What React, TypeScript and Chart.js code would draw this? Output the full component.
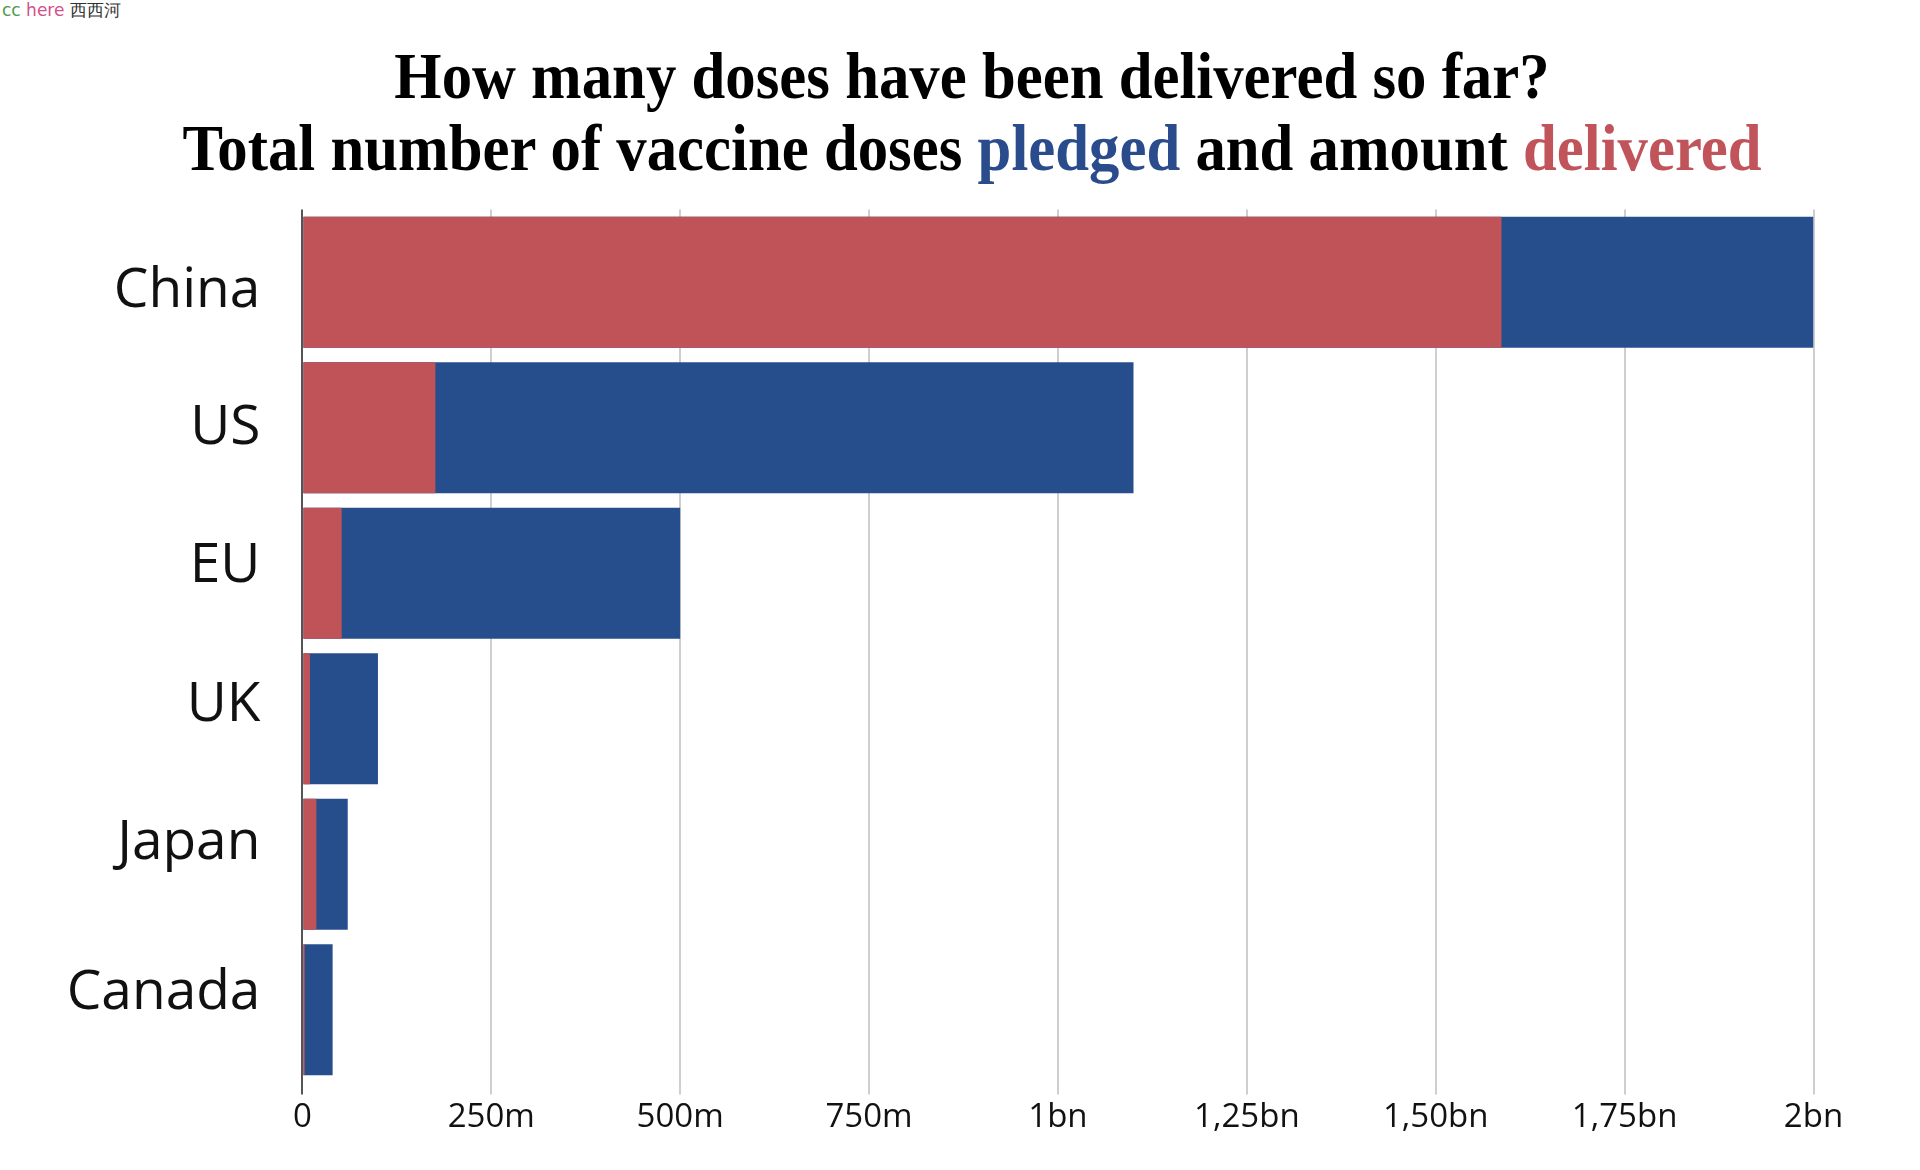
import React, { useEffect, useRef } from "react";
import { Chart, registerables } from "chart.js";

Chart.register(...registerables);

const countries = ["China", "US", "EU", "UK", "Japan", "Canada"];
// values in millions of doses
const pledged = [2000, 1100, 500, 100, 60, 40];
const delivered = [1587, 176, 52, 10, 18.5, 3];
const tickValues = [0, 250, 500, 750, 1000, 1250, 1500, 1750, 2000];
const tickLabels = ["0", "250m", "500m", "750m", "1bn", "1,25bn", "1,50bn", "1,75bn", "2bn"];

// vertical nudge (px) of each category label relative to its bar centre, as in the original artwork
const labelNudge = [9, 1, -7, -13, -21, -16];

const RED = "#BF5358";
const BLUE = "#274E8C";

const categoryLabelPlugin = {
  id: "categoryLabels",
  afterDraw(chart: any) {
    const y = chart.scales.y;
    const ctx = chart.ctx;
    ctx.save();
    ctx.font = "55px 'Open Sans'";
    ctx.fillStyle = "#111";
    ctx.textAlign = "right";
    ctx.textBaseline = "middle";
    const labels: string[] = chart.data.labels;
    labels.forEach((lab, i) => {
      const py = y.getPixelForValue(i) + (labelNudge[i] || 0);
      ctx.fillText(lab, y.right - 42, py);
    });
    ctx.restore();
  },
};

export default function App() {
  const ref = useRef<HTMLCanvasElement | null>(null);

  useEffect(() => {
    if (!ref.current) return;
    const chart = new Chart(ref.current, {
      type: "bar",
      data: {
        labels: countries,
        datasets: [
          {
            label: "delivered",
            data: delivered,
            backgroundColor: RED,
            order: 0,
            grouped: false,
            categoryPercentage: 1,
            barPercentage: 0.9,
          } as any,
          {
            label: "pledged",
            data: pledged,
            backgroundColor: BLUE,
            order: 1,
            grouped: false,
            categoryPercentage: 1,
            barPercentage: 0.9,
          } as any,
        ],
      },
      options: {
        indexAxis: "y",
        animation: false,
        responsive: false,
        maintainAspectRatio: false,
        layout: { padding: { left: 0, right: 106.5, top: 209.5, bottom: 27.6 } },
        plugins: {
          legend: { display: false },
          title: { display: false },
          tooltip: { enabled: false },
        },
        scales: {
          x: {
            type: "linear",
            min: 0,
            max: 2000,
            afterBuildTicks: (scale: any) => {
              scale.ticks = tickValues.map((v) => ({ value: v }));
            },
            afterFit: (scale: any) => {
              scale.height = 60;
            },
            ticks: {
              autoSkip: false,
              maxRotation: 0,
              padding: 3,
              color: "#111",
              font: { family: "'Open Sans'", size: 33 },
              callback: (_v: any, i: number) => tickLabels[i],
            },
            grid: {
              color: (c: any) => (c.tick && c.tick.value === 0 ? "#555" : "#cfcfcf"),
              tickColor: (c: any) => (c.tick && c.tick.value === 0 ? "#555" : "#cfcfcf"),
              lineWidth: 2,
              drawTicks: true,
              tickLength: 12,
            },
            border: { display: false },
          },
          y: {
            afterFit: (scale: any) => {
              scale.width = 302.4;
            },
            ticks: { display: false },
            grid: { display: false, drawTicks: false },
            border: { display: false },
          },
        },
      },
      plugins: [categoryLabelPlugin],
    });
    return () => chart.destroy();
  }, []);

  return (
    <div style={{ position: "absolute", left: 0, top: 0, width: 1920, height: 1170, background: "#fff" }}>
      <div
        style={{
          position: "absolute",
          left: 2,
          top: 0,
          fontFamily: "'DejaVu Sans', sans-serif",
          fontSize: 17,
          lineHeight: "20px",
          whiteSpace: "nowrap",
        }}
      >
        <span style={{ color: "#4c9a50" }}>cc</span>{" "}
        <span style={{ color: "#d2508c" }}>here</span>
        <span style={{ color: "#333" }}> 西西河</span>
      </div>
      <div
        style={{
          position: "absolute",
          left: 972 - 1000,
          top: 40,
          width: 2000,
          textAlign: "center",
          fontFamily: "'Liberation Serif', serif",
          fontWeight: "bold",
          fontSize: 65,
          lineHeight: "72px",
          color: "#000",
          transform: "scaleX(0.935)",
          transformOrigin: "center",
          whiteSpace: "nowrap",
        }}
      >
        <div>How many doses have been delivered so far?</div>
        <div>
          Total number of vaccine doses <span style={{ color: "#2B4C8C" }}>pledged</span> and amount{" "}
          <span style={{ color: "#C0545A" }}>delivered</span>
        </div>
      </div>
      <canvas ref={ref} width={1920} height={1170} style={{ position: "absolute", left: 0, top: 0 }} />
    </div>
  );
}
